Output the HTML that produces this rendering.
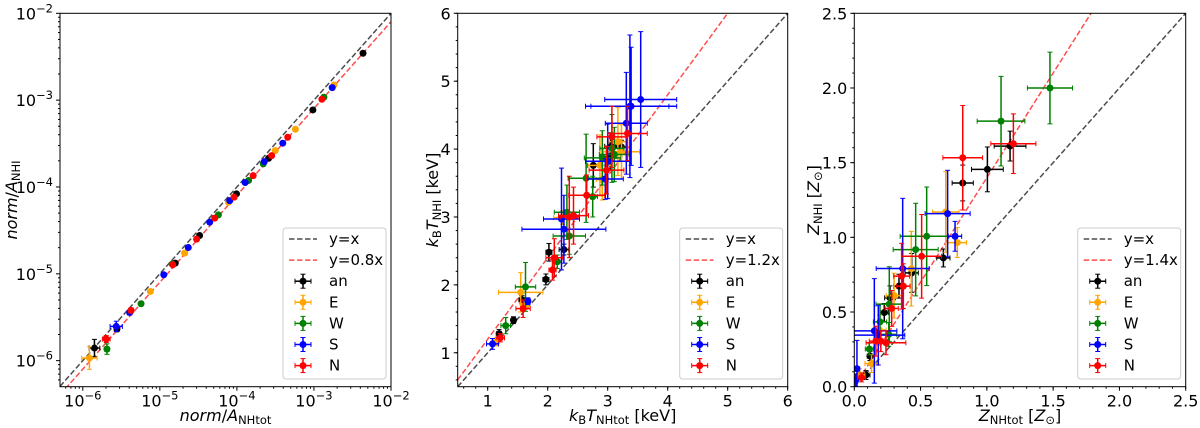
<!DOCTYPE html>
<html><head><meta charset="utf-8">
<style>
html,body{margin:0;padding:0;background:#fff;}
svg{display:block;font-family:"DejaVu Sans","Liberation Sans",sans-serif;}
</style></head>
<body>
<svg id="fig" width="1200" height="428" viewBox="0 0 1200 428" xmlns="http://www.w3.org/2000/svg"></svg>
<script>
// ---------- Panel 1 data (log10 values) ----------
const p1_an_x=[-2.363,-3.014,-3.588,-4.005,-4.484,-4.80,-5.557,-5.849];
const p1_an_y=[-2.460,-3.113,-3.669,-4.079,-4.559,-4.877,-5.636,-5.855];
const p1_E_x=[-2.74,-3.241,-3.502,-4.110,-4.679,-5.123,-5.914];
const p1_E_y=[-2.825,-3.335,-3.581,-4.175,-4.762,-5.203,-5.970];
const p1_W_x=[-2.871,-3.658,-3.849,-4.240,-4.840,-5.244,-5.687];
const p1_W_y=[-2.967,-3.734,-3.926,-4.321,-4.888,-5.345,-5.867];
const p1_S_x=[-2.763,-3.405,-3.645,-3.893,-4.093,-4.353,-4.631,-4.949,-5.392,-5.566];
const p1_S_y=[-2.856,-3.496,-3.708,-3.949,-4.157,-4.405,-4.697,-5.011,-5.445,-5.606];
const p1_N_x=[-2.897,-3.340,-3.549,-3.789,-4.036,-4.288,-4.523,-4.832,-5.374,-5.696];
const p1_N_y=[-2.990,-3.427,-3.639,-3.869,-4.117,-4.359,-4.601,-4.896,-5.422,-5.751];
const p1_an_ex=[0,0,0,0,0,0,0.03,0.07]; const p1_an_ey=[0,0,0,0,0,0,0.03,0.1];
const p1_E_ex=[0,0,0,0,0,0,0.1]; const p1_E_ey=[0,0,0,0,0,0,0.13];
const p1_W_ex=[0,0,0,0,0,0,0.03]; const p1_W_ey=[0,0,0,0,0,0,0.06];
const p1_S_ex=[0,0,0,0,0,0,0,0,0.03,0.08]; const p1_S_ey=[0,0,0,0,0,0,0,0,0.03,0.06];
const p1_N_ex=[0,0,0,0,0,0,0,0,0.03,0.05]; const p1_N_ey=[0,0,0,0,0,0,0,0,0.03,0.04];

// ---------- Panel 2 data (keV) ----------
const p2_an_x=[1.19,1.43,1.57,1.97,2.02,2.27,2.76,3.04,3.05,3.23];
const p2_an_y=[1.28,1.48,1.78,2.08,2.48,2.52,3.76,3.89,4.04,4.03];
const p2_an_ex=[0.04,0.04,0.05,0.05,0.05,0.08,0.1,0.1,0.1,0.1];
const p2_an_ey=[0.06,0.05,0.06,0.08,0.13,0.08,0.32,0.2,0.2,0.1];
const p2_E_x=[1.15,1.63,1.55,2.87,2.91,3.17,3.23,2.25];
const p2_E_y=[1.16,1.70,1.89,3.76,3.55,4.11,3.96,2.99];
const p2_E_ex=[0.05,0.06,0.37,0.2,0.1,0.15,0.3,0.15];
const p2_E_ey=[0.06,0.06,0.29,0.45,0.3,0.5,0.4,0.1];
const p2_W_x=[1.30,1.63,2.16,2.36,2.32,2.64,2.75,2.91,3.07,3.11];
const p2_W_y=[1.40,1.97,2.34,2.72,3.07,3.57,3.30,3.87,4.01,3.92];
const p2_W_ex=[0.08,0.17,0.07,0.27,0.21,0.3,0.08,0.3,0.2,0.25];
const p2_W_ey=[0.12,0.36,0.1,0.27,0.4,0.65,0.3,0.4,0.5,0.4];
const p2_S_x=[1.08,1.67,2.23,2.27,2.96,3.0,3.31,3.37,3.39,3.55];
const p2_S_y=[1.13,1.76,2.97,2.82,3.56,3.82,4.38,4.63,4.63,4.73];
const p2_S_ex=[0.1,0.04,0.3,0.7,0.3,0.37,0.35,0.65,0.76,0.6];
const p2_S_ey=[0.08,0.05,0.75,0.5,0.3,0.55,0.75,1.05,0.87,1.0];
const p2_N_x=[1.21,1.59,2.08,2.11,2.36,2.43,2.65,2.98,3.07,3.33];
const p2_N_y=[1.22,1.65,2.22,2.40,3.00,3.02,3.32,3.69,4.18,4.23];
const p2_N_ex=[0.07,0.12,0.06,0.14,0.15,0.25,0.3,0.29,0.25,0.33];
const p2_N_ey=[0.06,0.13,0.15,0.28,0.6,0.42,0.3,0.35,0.45,0.4];

// ---------- Panel 3 data (Z_sun) ----------
const p3_an_x=[1.175,1.004,0.818,0.672,0.433,0.337,0.269,0.226,0.118,0.088];
const p3_an_y=[1.611,1.455,1.364,0.862,0.762,0.673,0.595,0.497,0.205,0.078];
const p3_an_ex=[0.12,0.12,0.08,0.05,0.05,0.04,0.04,0.03,0.02,0.03];
const p3_an_ey=[0.1,0.15,0.12,0.06,0.13,0.08,0.08,0.06,0.03,0.03];
const p3_E_x=[0.777,0.69,0.43,0.30,0.19,0.13,0.04];
const p3_E_y=[0.965,1.17,0.79,0.61,0.38,0.155,0.08];
const p3_E_ex=[0.07,0.1,0.08,0.06,0.05,0.05,0.04];
const p3_E_ey=[0.1,0.27,0.25,0.15,0.1,0.06,0.04];
const p3_W_x=[1.476,1.107,0.546,0.463,0.264,0.194,0.26,0.113];
const p3_W_y=[2.0,1.778,1.007,0.918,0.553,0.434,0.35,0.252];
const p3_W_ex=[0.17,0.18,0.2,0.17,0.1,0.05,0.06,0.03];
const p3_W_ey=[0.24,0.3,0.33,0.31,0.25,0.12,0.08,0.04];
const p3_S_x=[0.704,0.76,0.365,0.151,0.181,0.02,0.01];
const p3_S_y=[1.159,1.007,0.791,0.374,0.345,0.12,0.045];
const p3_S_ex=[0.17,0.05,0.2,0.17,0.2,0.02,0.02];
const p3_S_ey=[0.29,0.1,0.47,0.35,0.2,0.19,0.04];
const p3_N_x=[0.818,1.2,0.508,0.357,0.37,0.282,0.163,0.2,0.239,0.055];
const p3_N_y=[1.533,1.627,0.873,0.74,0.673,0.524,0.305,0.305,0.294,0.062];
const p3_N_ex=[0.15,0.17,0.15,0.06,0.05,0.05,0.05,0.05,0.15,0.03];
const p3_N_ey=[0.35,0.2,0.28,0.22,0.15,0.12,0.1,0.07,0.08,0.03];

const COLORS={an:"#000000",E:"#ffa500",W:"#008000",S:"#0000ff",N:"#ff0000"};
const NS="http://www.w3.org/2000/svg";
const svg=document.getElementById('fig');
function mk(tag,attrs,parent){const e=document.createElementNS(NS,tag);for(const k in attrs)e.setAttribute(k,attrs[k]);(parent||svg).appendChild(e);return e;}

function panel(cfg){
  const g=mk('g',{});
  
  
  const L=cfg.x0,R=cfg.x1,T=13.3,B=386.7;
  const sx=v=>L+(v-cfg.xmin)/(cfg.xmax-cfg.xmin)*(R-L);
  const sy=v=>B-(v-cfg.ymin)/(cfg.ymax-cfg.ymin)*(B-T);
  const clipId='clip'+cfg.name;
  const cp=mk('clipPath',{id:clipId},g);mk('rect',{x:L,y:T,width:R-L,height:B-T},cp);
  const plot=mk('g',{'clip-path':'url(#'+clipId+')'},g);
  
  
  const x0=cfg.xmin,x1=cfg.xmax;
  const ref1=mk('line',{x1:sx(x0),y1:sy(x0),x2:sx(x1),y2:sy(x1),stroke:'#000',"stroke-opacity":0.7,"stroke-width":1.5,"stroke-dasharray":"5.5,2.5"},plot);
  
  
  const ref2=mk('line',{x1:sx(x0),y1:sy(cfg.fy(x0)),x2:sx(x1),y2:sy(cfg.fy(x1)),stroke:'#ff0000',"stroke-opacity":0.7,"stroke-width":1.5,"stroke-dasharray":"5.5,2.5"},plot);
  
  
  for(const s of cfg.series){
    const sg=mk('g',{},plot);
    
    
    const c=COLORS[s.key];
    for(let i=0;i<s.x.length;i++){
      const X=sx(s.x[i]),Y=sy(s.y[i]);
      if(s.ex[i]>0){
        const a=sx(s.x[i]-s.ex[i]),b=sx(s.x[i]+s.ex[i]);
        mk('line',{x1:a,y1:Y,x2:b,y2:Y,stroke:c,"stroke-width":1.5},sg);
        mk('line',{x1:a,y1:Y-2.5,x2:a,y2:Y+2.5,stroke:c,"stroke-width":1},sg);
        mk('line',{x1:b,y1:Y-2.5,x2:b,y2:Y+2.5,stroke:c,"stroke-width":1},sg);
      }
      if(s.ey[i]>0){
        const a=sy(s.y[i]-s.ey[i]),b=sy(s.y[i]+s.ey[i]);
        mk('line',{x1:X,y1:a,x2:X,y2:b,stroke:c,"stroke-width":1.5},sg);
        mk('line',{x1:X-2.5,y1:a,x2:X+2.5,y2:a,stroke:c,"stroke-width":1},sg);
        mk('line',{x1:X-2.5,y1:b,x2:X+2.5,y2:b,stroke:c,"stroke-width":1},sg);
      }
      const p=mk('circle',{cx:X,cy:Y,r:3.5,fill:c},sg);
      
      
    }
  }
  const fr=mk('rect',{x:L,y:T,width:R-L,height:B-T,fill:'none',stroke:'#000',"stroke-width":1},g);
  
  
  const tg=mk('g',{},g);
  
  
  for(const t of cfg.xmajor){const X=sx(t.v);mk('line',{x1:X,y1:B,x2:X,y2:B+4,stroke:'#000'},tg);
    const tx=mk('text',{x:X,y:B+20,"text-anchor":"middle","font-size":16},tg);tx.innerHTML=t.l;
    
    }
  for(const v of cfg.xminor){const X=sx(v);mk('line',{x1:X,y1:B,x2:X,y2:B+2,stroke:'#000'},tg);}
  for(const t of cfg.ymajor){const Y=sy(t.v);mk('line',{x1:L-4,y1:Y,x2:L,y2:Y,stroke:'#000'},tg);
    const tx=mk('text',{x:L-7,y:Y+6,"text-anchor":"end","font-size":16},tg);tx.innerHTML=t.l;
    
    }
  for(const v of cfg.yminor){const Y=sy(v);mk('line',{x1:L-2,y1:Y,x2:L,y2:Y,stroke:'#000'},tg);}
  const xl=mk('text',{x:(L+R)/2,y:421,"text-anchor":"middle","font-size":16},g);xl.innerHTML=cfg.xlabel;
  
  
  const yx=cfg.ylx;
  const yl=mk('text',{x:yx,y:(T+B)/2,"text-anchor":"middle","font-size":16,transform:`rotate(-90 ${yx} ${(T+B)/2})`},g);yl.innerHTML=cfg.ylabel;
  
  
  const lg=mk('g',{},g);
  
  
  const lx=R-108,ly=228;
  mk('rect',{x:lx,y:ly,width:103,height:151,rx:3,fill:'#fff',"fill-opacity":0.8,stroke:'#ccc'},lg);
  const items=[['line','#000','y=x'],['line','#ff0000',cfg.fitLabel],['pt',COLORS.an,'an'],['pt',COLORS.E,'E'],['pt',COLORS.W,'W'],['pt',COLORS.S,'S'],['pt',COLORS.N,'N']];
  items.forEach((it,i)=>{
    const Y=ly+11+i*21.1;const a=lx+6,b=lx+34,m=(a+b)/2;
    const eg=mk('g',{},lg);
    
    
    if(it[0]==='line'){mk('line',{x1:a,y1:Y,x2:b,y2:Y,stroke:it[1],"stroke-opacity":0.7,"stroke-width":1.5,"stroke-dasharray":"5.5,2.5"},eg);}
    else{mk('line',{x1:a+6,y1:Y,x2:b-6,y2:Y,stroke:it[1],"stroke-width":1.5},eg);
      mk('line',{x1:m,y1:Y-7,x2:m,y2:Y+7,stroke:it[1],"stroke-width":1.5},eg);
      mk('line',{x1:m-2.5,y1:Y-7,x2:m+2.5,y2:Y-7,stroke:it[1]},eg);
      mk('line',{x1:m-2.5,y1:Y+7,x2:m+2.5,y2:Y+7,stroke:it[1]},eg);
      mk('line',{x1:a+6,y1:Y-2.5,x2:a+6,y2:Y+2.5,stroke:it[1]},eg);
      mk('line',{x1:b-6,y1:Y-2.5,x2:b-6,y2:Y+2.5,stroke:it[1]},eg);
      mk('circle',{cx:m,cy:Y,r:3.5,fill:it[1]},eg);}
    const t=mk('text',{x:lx+46,y:Y+5,"font-size":15},eg);t.textContent=it[2];
  });
}
function ser(p){return ['an','E','W','S','N'].map(k=>({key:k,x:eval(p+'_'+k+'_x'),y:eval(p+'_'+k+'_y'),ex:eval(p+'_'+k+'_ex'),ey:eval(p+'_'+k+'_ey')}));}
function range(a,b,s){const r=[];for(let v=a;v<=b+1e-9;v+=s)r.push(+v.toFixed(6));return r;}
function logMinor(lo,hi){const r=[];for(let d=-7;d<=-2;d++)for(let k=2;k<=9;k++){const v=d+Math.log10(k);if(v>=lo&&v<=hi)r.push(v);}return r;}
const sup=e=>`10<tspan dy="-7" font-size="11.5">−${e}</tspan>`;
const sub=t=>`<tspan baseline-shift="-25%" font-size="11.5">${t}</tspan>`;

panel({name:'panel-norm',x0:60,x1:391,xmin:-6.296,xmax:-2,ymin:-6.30,ymax:-2,
  fy:v=>v+Math.log10(0.8),fitLabel:'y=0.8x',series:ser('p1'),
  xmajor:[6,5,4,3,2].map(e=>({v:-e,l:sup(e)})),ymajor:[6,5,4,3,2].map(e=>({v:-e,l:sup(e)})),
  xminor:logMinor(-6.296,-2),yminor:logMinor(-6.3,-2),
  xlabel:'<tspan font-style="italic">norm</tspan>/<tspan font-style="italic">A</tspan>'+sub('NHtot'),
  ylabel:'<tspan font-style="italic">norm</tspan>/<tspan font-style="italic">A</tspan>'+sub('NHI'),ylx:17});

panel({name:'panel-temperature',x0:457.7,x1:787.7,xmin:0.5,xmax:6,ymin:0.5,ymax:6,
  fy:v=>1.2*v,fitLabel:'y=1.2x',series:ser('p2'),
  xmajor:[1,2,3,4,5,6].map(v=>({v,l:String(v)})),ymajor:[1,2,3,4,5,6].map(v=>({v,l:String(v)})),
  xminor:range(0.6,6,0.2),yminor:range(0.6,6,0.2),
  xlabel:'<tspan font-style="italic">k</tspan>'+sub('B')+'<tspan font-style="italic">T</tspan>'+sub('NHtot')+'<tspan> [keV]</tspan>',
  ylabel:'<tspan font-style="italic">k</tspan>'+sub('B')+'<tspan font-style="italic">T</tspan>'+sub('NHI')+'<tspan> [keV]</tspan>',ylx:438});

panel({name:'panel-metallicity',x0:854.3,x1:1185.7,xmin:0,xmax:2.5,ymin:0,ymax:2.5,
  fy:v=>1.4*v,fitLabel:'y=1.4x',series:ser('p3'),
  xmajor:[0,0.5,1,1.5,2,2.5].map(v=>({v,l:v.toFixed(1)})),ymajor:[0,0.5,1,1.5,2,2.5].map(v=>({v,l:v.toFixed(1)})),
  xminor:range(0.1,2.5,0.1),yminor:range(0.1,2.5,0.1),
  xlabel:'<tspan font-style="italic">Z</tspan>'+sub('NHtot')+'<tspan> [</tspan><tspan font-style="italic">Z</tspan>'+sub('⊙')+'<tspan>]</tspan>',
  ylabel:'<tspan font-style="italic">Z</tspan>'+sub('NHI')+'<tspan> [</tspan><tspan font-style="italic">Z</tspan>'+sub('⊙')+'<tspan>]</tspan>',ylx:819});
</script>
</body></html>
